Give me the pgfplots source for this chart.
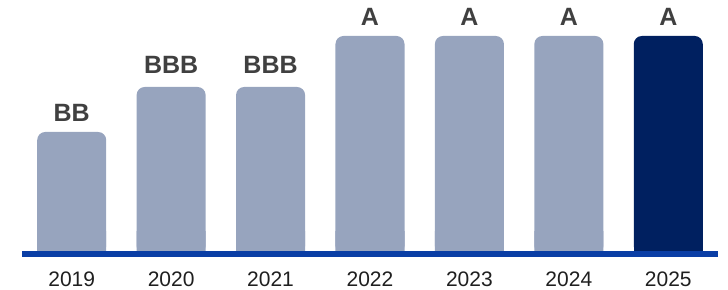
\documentclass[border=0pt]{standalone}
\usepackage{pgfplots}
\pgfplotsset{compat=1.18}
\usepackage{pgfplotstable}
\usepackage{fontspec}
\setmainfont{Liberation Sans}
\definecolor{barlight}{HTML}{97A4BE}
\definecolor{bardark}{HTML}{002060}
\definecolor{baseblue}{HTML}{0A3EA5}
\definecolor{lblgrey}{HTML}{404040}
\definecolor{yeartext}{HTML}{1F1F1F}

% heights measured from a level 20 units below the baseline (baseline = 20)
% base: square-cornered foot of each bar (hides the lower rounded corners)
\pgfplotstableread{
x h base label
0 139 40 BB
3 235 40 A
4 235 40 A
5 235 40 A
}\lighttab
\pgfplotstableread{
x h base label
1 184 40 BBB
2 184 40 BBB
}\lightbbb
\pgfplotstableread{
x h base label
6 235 40 A
}\darktab

\begin{document}
\begin{tikzpicture}
\begin{axis}[
  scale only axis, width=696bp, height=254bp,
  xmin=-0.5, xmax=6.5, ymin=17, ymax=271,
  axis on top,
  axis x line*=bottom, axis y line=none,
  x axis line style={draw=baseblue, line width=6bp, -},
  xtick={0,1,2,3,4,5,6},
  xticklabels={2019,2020,2021,2022,2023,2024,2025},
  major tick length=0pt,
  xticklabel style={anchor=north, inner sep=0pt, yshift=-18bp,
    font=\fontsize{21bp}{21bp}\selectfont, text=yeartext},
  bar width=69bp,
  lbl/.style={point meta=explicit symbolic,
    nodes near coords={\pgfplotspointmeta},
    every node near coord/.append style={anchor=south, inner sep=0pt, yshift=#1,
      font=\bfseries\fontsize{25bp}{25bp}\selectfont, text=lblgrey}},
]
% square feet
\addplot[ybar, bar shift=0pt, fill=barlight, draw=none]
  table[x=x, y=base] {\lighttab};
\addplot[ybar, bar shift=0pt, fill=barlight, draw=none]
  table[x=x, y=base] {\lightbbb};
\addplot[ybar, bar shift=0pt, fill=bardark, draw=none]
  table[x=x, y=base] {\darktab};
% rounded bars with labels
\addplot[ybar, bar shift=0pt, fill=barlight, draw=none, rounded corners=8bp, lbl=10bp]
  table[x=x, y=h, meta=label] {\lighttab};
\addplot[ybar, bar shift=0pt, fill=barlight, draw=none, rounded corners=8bp, lbl=13bp]
  table[x=x, y=h, meta=label] {\lightbbb};
\addplot[ybar, bar shift=0pt, fill=bardark, draw=none, rounded corners=8bp, lbl=10bp]
  table[x=x, y=h, meta=label] {\darktab};
\end{axis}
\pgfresetboundingbox
\path (-22bp,-36bp) rectangle (706bp,254bp);
\end{tikzpicture}
\end{document}
